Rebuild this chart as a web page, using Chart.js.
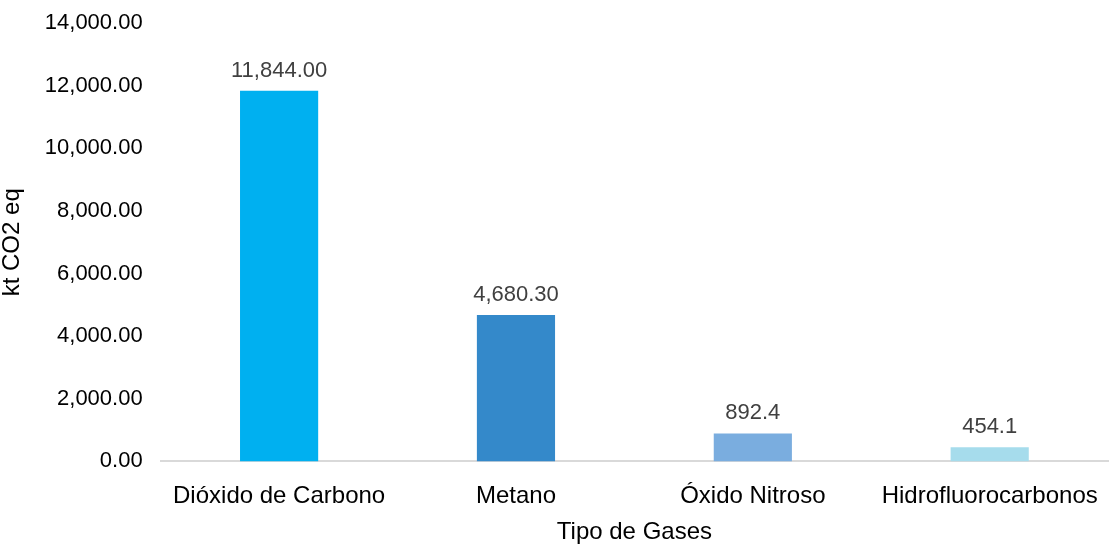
<!DOCTYPE html>
<html>
<head>
<meta charset="utf-8">
<script src="https://cdn.jsdelivr.net/npm/chart.js@4"></script>
<style>
  body { margin: 0; background: #fff; }
  #wrap { width: 1111px; height: 546px; }
</style>
</head>
<body>
<div id="wrap"><canvas id="Chart"></canvas></div>
<script>
const gases = ['Dióxido de Carbono', 'Metano', 'Óxido Nitroso', 'Hidrofluorocarbonos'];
const emisiones = [11844.00, 4680.30, 892.4, 454.1];
const etiquetas = ['11,844.00', '4,680.30', '892.4', '454.1'];
const colores = ['#00B0F0', '#3489CA', '#7AADDF', '#A6DCEC'];

const fuente = "'Liberation Sans', Arial, sans-serif";

// draw value labels above each bar
const valueLabels = {
    id: 'valueLabels',
    afterDatasetsDraw(chart) {
        const c = chart.ctx;
        const meta = chart.getDatasetMeta(0);
        c.save();
        c.font = '22px ' + fuente;
        c.fillStyle = '#404040';
        c.textAlign = 'center';
        c.textBaseline = 'alphabetic';
        meta.data.forEach((bar, i) => {
            c.fillText(etiquetas[i], bar.x, bar.y - 14);
        });
        c.restore();
    }
};

const ctx = document.getElementById('Chart').getContext('2d');
let myChart = new Chart(ctx, {
    type: 'bar',
    data: {
        labels: gases,
        datasets: [{
            label: 'kt CO2 eq',
            data: emisiones,
            backgroundColor: colores,
            borderWidth: 0,
            barPercentage: 0.33,
            categoryPercentage: 1
        }]
    },
    options: {
        responsive: true,
        maintainAspectRatio: false,
        animation: false,
        layout: { padding: { top: 0, right: 2, left: -2, bottom: -1 } },
        plugins: {
            legend: { display: false },
            tooltip: { enabled: false }
        },
        scales: {
            x: {
                grid: { display: false },
                border: { color: '#D9D9D9', width: 2 },
                ticks: { color: '#000', font: { family: fuente, size: 24 }, padding: 13, maxRotation: 0 },
                title: { display: true, text: 'Tipo de Gases', color: '#000', font: { family: fuente, size: 24 }, padding: { top: -6, bottom: 0 } }
            },
            y: {
                min: 0,
                max: 14000,
                grid: { display: false },
                border: { display: false },
                ticks: {
                    stepSize: 2000,
                    color: '#000',
                    font: { family: fuente, size: 22 },
                    padding: 10,
                    callback: v => v.toLocaleString('en-US', { minimumFractionDigits: 2, maximumFractionDigits: 2 })
                },
                title: { display: true, text: 'kt CO2 eq', color: '#000', font: { family: fuente, size: 24 }, padding: { top: 0, bottom: 8 } }
            }
        }
    },
    plugins: [valueLabels]
});
</script>
</body>
</html>
